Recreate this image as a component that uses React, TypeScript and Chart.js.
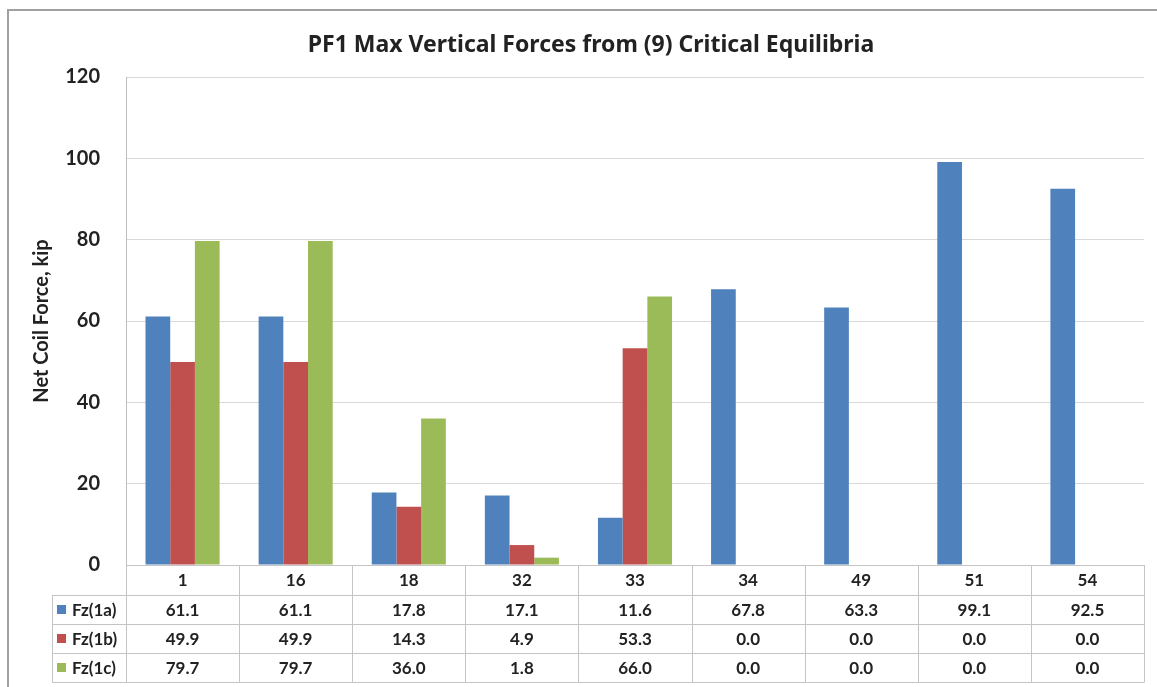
import React, { useEffect, useRef } from "react";
import { Chart, registerables } from "chart.js";

Chart.register(...registerables);

const categories = ["1", "16", "18", "32", "33", "34", "49", "51", "54"];
const seriesNames = ["Fz(1a)", "Fz(1b)", "Fz(1c)"];
const fz1a = [61.1, 61.1, 17.8, 17.1, 11.6, 67.8, 63.3, 99.1, 92.5];
const fz1b = [49.9, 49.9, 14.3, 4.9, 53.3, 0.0, 0.0, 0.0, 0.0];
const fz1c = [79.7, 79.7, 36.0, 1.8, 66.0, 0.0, 0.0, 0.0, 0.0];
const seriesColors = ["#4F81BD", "#C0504D", "#9BBB59"];
const yTicks = [0, 20, 40, 60, 80, 100, 120];

const FONT = "Lato, 'Noto Sans', sans-serif";
const TITLE_FONT = "'Noto Sans', Lato, sans-serif";
const TEXT = "#222222";
const LINE = "#c4c4c4";

const framePlugin = {
  id: "frame",
  beforeDraw(chart: any) {
    const { ctx, width, height } = chart;
    ctx.save();
    ctx.fillStyle = "#ffffff";
    ctx.fillRect(0, 0, width, height);
    ctx.strokeStyle = "#a0a0a0";
    ctx.lineWidth = 2;
    ctx.strokeRect(8, 10, width + 20, height + 20);
    ctx.restore();
  },
};

const tablePlugin = {
  id: "dataTable",
  afterDraw(chart: any) {
    const { ctx, chartArea } = chart;
    const xScale = chart.scales.x;
    const n = categories.length;
    const left = chartArea.left;
    const right = chartArea.right;
    const colW = (right - left) / n;
    const top = chartArea.bottom;
    const headerH = 30;
    const rowH = 29;
    const legendLeft = 52;
    const rows = [fz1a, fz1b, fz1c];
    const bottom = top + headerH + rowH * rows.length;

    ctx.save();
    ctx.strokeStyle = LINE;
    ctx.lineWidth = 1;
    ctx.beginPath();
    ctx.moveTo(left, Math.round(top) + 0.5);
    ctx.lineTo(right, Math.round(top) + 0.5);
    for (let r = 0; r <= rows.length; r++) {
      const y = Math.round(top + headerH + r * rowH) + 0.5;
      ctx.moveTo(legendLeft, y);
      ctx.lineTo(right, y);
    }
    ctx.moveTo(legendLeft + 0.5, top + headerH);
    ctx.lineTo(legendLeft + 0.5, bottom);
    for (let i = 0; i <= n; i++) {
      const x = Math.round(left + i * colW) + 0.5;
      ctx.moveTo(x, top);
      ctx.lineTo(x, bottom + 0.5);
    }
    ctx.stroke();

    ctx.fillStyle = TEXT;
    ctx.font = `bold 17px ${FONT}`;
    ctx.textAlign = "center";
    ctx.textBaseline = "middle";
    categories.forEach((c, i) => {
      const cx = xScale.getPixelForValue(i);
      ctx.fillText(c, cx, top + headerH / 2 + 1);
    });
    rows.forEach((vals, r) => {
      const cy = top + headerH + r * rowH + rowH / 2 + 1;
      vals.forEach((v, i) => {
        const cx = xScale.getPixelForValue(i);
        ctx.fillText(v.toFixed(1), cx, cy);
      });
    });
    ctx.textAlign = "left";
    rows.forEach((_, r) => {
      const cy = top + headerH + r * rowH + rowH / 2;
      ctx.fillStyle = seriesColors[r];
      ctx.fillRect(57, Math.round(cy - 4.5), 9, 9);
      ctx.fillStyle = TEXT;
      ctx.fillText(seriesNames[r], 72, cy + 1);
    });
    ctx.restore();
  },
};

export default function App() {
  const canvasRef = useRef<HTMLCanvasElement | null>(null);

  useEffect(() => {
    if (!canvasRef.current) return;
    const chart = new Chart(canvasRef.current, {
      type: "bar",
      data: {
        labels: categories,
        datasets: [fz1a, fz1b, fz1c].map((d, i) => ({
          label: seriesNames[i],
          data: d,
          backgroundColor: seriesColors[i],
          borderWidth: 0,
          categoryPercentage: 0.655,
          barPercentage: 1.0,
        })),
      },
      options: {
        animation: false,
        responsive: false,
        maintainAspectRatio: false,
        layout: { padding: { left: 38, right: 13, top: 0, bottom: 0 } },
        plugins: {
          legend: { display: false },
          tooltip: { enabled: false },
          title: {
            display: true,
            text: "PF1 Max Vertical Forces from (9) Critical Equilibria",
            color: TEXT,
            font: { family: TITLE_FONT, size: 23, weight: "bold", lineHeight: 1.2 },
            padding: { top: 32, bottom: 17.4 },
          },
        },
        scales: {
          x: {
            grid: { display: false },
            border: { display: false },
            ticks: { display: false },
            afterFit(scale: any) {
              scale.height = 122;
            },
          },
          y: {
            min: 0,
            max: 120,
            afterBuildTicks(scale: any) {
              scale.ticks = yTicks.map((v) => ({ value: v }));
            },
            grid: { color: "#d9d9d9", drawTicks: false },
            border: { display: true, color: "#bfbfbf" },
            ticks: {
              padding: 26,
              color: TEXT,
              font: { family: FONT, size: 20, weight: "bold" },
            },
            title: {
              display: true,
              text: "Net Coil Force, kip",
              color: TEXT,
              font: { family: FONT, size: 20, weight: "bold" },
              padding: { top: -8, bottom: 0 },
            },
            afterFit(scale: any) {
              scale.width = 88;
            },
          },
        },
      },
      plugins: [framePlugin, tablePlugin],
    });
    return () => chart.destroy();
  }, []);

  return (
    <div style={{ position: "absolute", left: 0, top: 0, width: 1157, height: 687 }}>
      <canvas ref={canvasRef} width={1157} height={687} style={{ display: "block" }} />
    </div>
  );
}
